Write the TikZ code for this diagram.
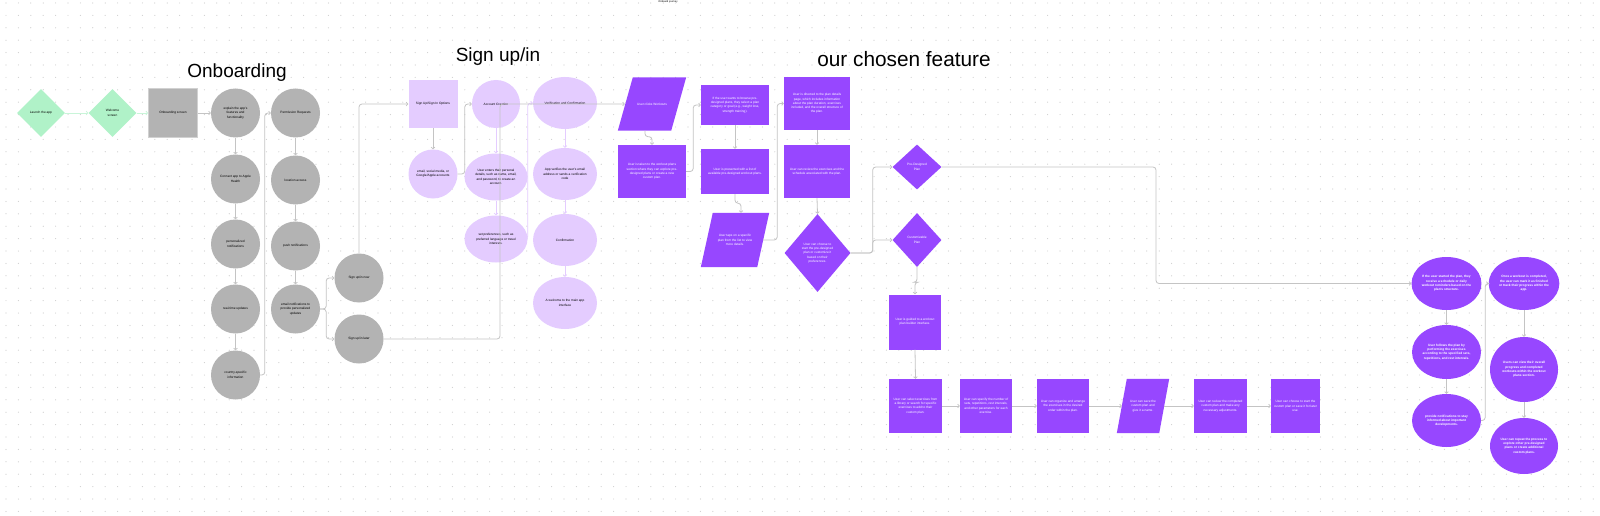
\documentclass[tikz,border=0pt]{standalone}
\usepackage{fontspec}
\setmainfont{Liberation Sans}
\usetikzlibrary{shapes.geometric,arrows.meta,calc}
\definecolor{mint}{HTML}{B0F2C8}
\definecolor{mintline}{HTML}{C9F5D9}
\definecolor{gshape}{HTML}{B3B3B3}
\definecolor{lpur}{HTML}{E4CCFF}
\definecolor{pur}{HTML}{9747FF}
\definecolor{linec}{HTML}{C4C4C4}
\definecolor{dotc}{HTML}{CFCFCF}
\begin{document}
\begin{tikzpicture}[x=1pt,y=-1pt,
  every node/.style={font=\fontsize{3.2}{4.3}\selectfont, align=center, inner sep=0pt},
  title/.style={font=\fontsize{19}{22}\selectfont},
  dotrow/.style={draw=dotc, line width=1.2pt, line cap=round, dash pattern=on 0pt off 12.4pt},
  gdia/.style={diamond, fill=mint, minimum width=48pt, minimum height=48pt},
  gsq/.style={rectangle, fill=gshape, draw=gshape!60, line width=0.8pt, minimum width=49pt, minimum height=49pt},
  gcirc/.style={circle, fill=gshape, minimum size=49pt},
  lpcirc/.style={circle, fill=lpur, minimum size=49pt},
  lpell/.style={ellipse, fill=lpur, minimum width=#1},
  lpbox/.style={rectangle, fill=lpur, minimum width=49pt, minimum height=48pt},
  pbox/.style={rectangle, fill=pur, text=white},
  pdia/.style={diamond, fill=pur, text=white},
  pell/.style={ellipse, fill=pur, text=white, font=\fontsize{3.2}{4.3}\selectfont\bfseries},
  pgframe/.style={rectangle},
  ptext/.style={text=white},
  conn/.style={draw=linec, line width=0.8pt, rounded corners=3pt, -{Straight Barb[length=1.6pt,width=3.6pt]}},
  gconn/.style={conn, draw=mintline},
  pconn/.style={conn, draw=lpur}
]
\useasboundingbox (0,0) rectangle (1600,516);
\fill[white] (0,0) rectangle (1600,516);
\foreach \yy in {3,15.4,...,516}{\draw[dotrow] (6,\yy) -- (1600,\yy);}

% titles
\node[title] (t1) at (237,73) {Onboarding};
\node[title] (t2) at (498,57) {Sign up/in};
\node[title, font=\fontsize{20.8}{24}\selectfont] (t3) at (904,59) {our chosen feature};
\node[font=\fontsize{2.6}{3}\selectfont] (t0) at (668,2) {Onboard journey};

% onboarding
\node[gdia] (launch) at (41,113) {Launch the app};
\node[gdia] (welcome) at (112.5,113) {Welcome\\screen};
\node[gsq] (onbs) at (173,113) {Onboarding screen};
\node[gcirc] (e1) at (235.5,113) {explain the app's\\features and\\functionality};
\node[gcirc] (e2) at (235.5,179) {Connect app to Apple\\Health};
\node[gcirc] (e3) at (235.5,244) {personalized\\notifications};
\node[gcirc] (e4) at (235.5,309) {real-time updates};
\node[gcirc] (e5) at (235.5,375) {country-specific\\information};
\node[gcirc] (p1) at (295.5,113) {Permission Requests};
\node[gcirc] (p2) at (295.5,180) {location access};
\node[gcirc] (p3) at (295.5,246) {push notifications};
\node[gcirc] (p4) at (295.5,309) {email notifications to\\provide personalized\\updates};
\node[gcirc] (snow) at (359,278) {Sign up/in now};
\node[gcirc] (slater) at (359,339) {Sign up/in later};

% sign up/in
\node[lpbox] (opts) at (433,104) {Sign Up/Sign In Options};
\node[lpcirc] (em) at (433,174) {email, social media, or\\Google/Apple accounts};
\node[lpcirc, minimum size=48pt] (acc) at (496,104) {Account Creation};
\node[lpell=63pt, minimum height=47pt] (det) at (496,177) {User enters their personal\\details, such as name, email,\\and password, to create an\\account.};
\node[lpell=63pt, minimum height=47pt] (pref) at (496,239) {set preferences, such as\\preferred language or travel\\interests.};
\node[lpell=64pt, minimum height=52pt] (ver) at (565,103) {Verification and Confirmation};
\node[lpell=64pt, minimum height=52pt] (vcode) at (565,174) {App verifies the user's email\\address or sends a verification\\code};
\node[lpell=64pt, minimum height=52pt] (conf) at (565,240) {Confirmation};
\node[lpell=64pt, minimum height=52pt] (welc) at (565,303) {A welcome to the main app\\interface};

% chosen feature
\node[pgframe, minimum width=68pt, minimum height=53pt] (wk) at (652,104) {};
\fill[pur] ([xshift=15pt]wk.north west) -- (wk.north east) -- ([xshift=-15pt]wk.south east) -- (wk.south west) -- cycle;
\node[ptext] (wkt) at (wk) {User clicks Workouts};
\node[pbox, minimum width=68pt, minimum height=53pt] (taken) at (652,171.5) {User is taken to the workout plans\\section where they can explore pre-\\designed plans or create a new\\custom plan.};
\node[pbox, minimum width=68pt, minimum height=40pt] (browse) at (735,105) {If the user wants to browse pre-\\designed plans, they select a plan\\category or goal (e.g., weight loss,\\strength training).};
\node[pbox, minimum width=68pt, minimum height=45pt] (presented) at (735,171.5) {User is presented with a list of\\available pre-designed workout plans.};
\node[pgframe, minimum width=68pt, minimum height=54pt] (tap) at (735,240) {};
\fill[pur] ([xshift=12pt]tap.north west) -- (tap.north east) -- ([xshift=-12pt]tap.south east) -- (tap.south west) -- cycle;
\node[ptext] (tapt) at (tap) {User taps on a specific\\plan from the list to view\\more details.};
\node[pbox, minimum width=66pt, minimum height=53pt] (details) at (817,103.5) {User is directed to the plan details\\page, which includes information\\about the plan duration, exercises\\included, and the overall structure of\\the plan.};
\node[pbox, minimum width=66pt, minimum height=53pt] (review) at (817,171.5) {User can review the exercises and the\\schedule associated with the plan.};
\node[pdia, minimum width=66pt, minimum height=78pt] (choose) at (817.5,253) {User can choose to\\start the pre-designed\\plan or customize it\\based on their\\preferences.};
\node[pdia, minimum width=49pt, minimum height=45pt] (pre) at (917,167) {Pre-Designed\\Plan};
\node[pdia, minimum width=49pt, minimum height=54pt] (cust) at (917,240) {Customizable\\Plan};
\node[pbox, minimum width=52pt, minimum height=55pt] (build) at (915,322) {User is guided to a workout\\plan builder interface.};
\node[pbox, minimum width=53pt, minimum height=54pt] (r1) at (915.5,406) {User can select exercises from\\a library or search for specific\\exercises to add to their\\custom plan.};
\node[pbox, minimum width=52pt, minimum height=54pt] (r2) at (986,406) {User can specify the number of\\sets, repetitions, rest intervals,\\and other parameters for each\\exercise.};
\node[pbox, minimum width=52pt, minimum height=54pt] (r3) at (1063,406) {User can organize and arrange\\the exercises in the desired\\order within the plan.};
\node[pgframe, minimum width=52pt, minimum height=54pt] (sv) at (1143,406) {};
\fill[pur] ([xshift=10pt]sv.north west) -- (sv.north east) -- ([xshift=-10pt]sv.south east) -- (sv.south west) -- cycle;
\node[ptext] (svt) at (sv) {User can save the\\custom plan and\\give it a name.};
\node[pbox, minimum width=53pt, minimum height=54pt] (r5) at (1220.5,406) {User can review the completed\\custom plan and make any\\necessary adjustments.};
\node[pbox, minimum width=49pt, minimum height=54pt] (r6) at (1295.5,406) {User can choose to start the\\custom plan or save it for later\\use.};
\node[pell, minimum width=69pt, minimum height=53pt] (c1) at (1446.5,283.5) {If the user started the plan, they\\receive a schedule or daily\\workout reminders based on the\\plan's structure.};
\node[pell, minimum width=69pt, minimum height=54pt] (c2) at (1446.5,352) {User follows the plan by\\performing the exercises\\according to the specified sets,\\repetitions, and rest intervals.};
\node[pell, minimum width=69pt, minimum height=53pt] (c3) at (1446.5,420.5) {provide notifications to stay\\informed about important\\developments.};
\node[pell, minimum width=68pt, minimum height=53pt] (c4) at (1524,283.5) {Once a workout is completed,\\the user can mark it as finished\\or track their progress within the\\app.};
\node[pell, minimum width=68pt, minimum height=65pt] (c5) at (1524,369.5) {Users can view their overall\\progress and completed\\workouts within the workout\\plans section.};
\node[pell, minimum width=68pt, minimum height=56pt] (c6) at (1524,446) {User can repeat the process to\\explore other pre-designed\\plans or create additional\\custom plans.};
\coordinate (k1) at (1156,283.5);

% connectors
\draw[gconn] (launch.east) -- (welcome.west);
\draw[gconn] (welcome.east) -- (onbs.west);
\draw[conn] (onbs.east) -- (e1.west);
\draw[conn] (e1) -- (e2);
\draw[conn] (e2) -- (e3);
\draw[conn] (e3) -- (e4);
\draw[conn] (e4) -- (e5);
\draw[conn] (e5.east) -| ([xshift=-6pt]p1.west) -- (p1.west);
\draw[conn] (p1) -- (p2);
\draw[conn] (p2) -- (p3);
\draw[conn] (p3) -- (p4);
\draw[conn] (p4.east) -- ++(6,0) |- (snow.west);
\draw[conn] (p4.east) -- ++(6,0) |- (slater.west);
\draw[conn] (snow.north) |- (opts.west);
\draw[conn] (opts) -- (em);
\draw[conn] (em.east) -| ([xshift=-7pt]acc.west) -- (acc.west);
\draw[pconn] (acc) -- (det);
\draw[pconn] (det) -- (pref);
\draw[pconn] (pref.east) -| ([xshift=-5pt]ver.west) -- (ver.west);
\draw[pconn] (ver) -- (vcode);
\draw[pconn] (vcode) -- (conf);
\draw[pconn] (conf) -- (welc);
\draw[conn] (slater.east) -| ([xshift=4pt]acc.center) -- ([xshift=7pt]wk.west);
\draw[conn] ([xshift=-7pt]wk.south) -- ++(0,6) -| (taken.north);
\draw[conn] (taken.east) -- ++(7,0) |- (browse.west);
\draw[conn] (browse) -- (presented);
\draw[conn] (presented.south) -- ++(0,9) -| ([xshift=6pt]tap.north);
\draw[conn] ([xshift=-6pt]tap.east) -- ++(14,0) |- (details.west);
\draw[conn] (details) -- (review);
\draw[conn] (review.south) -- (choose.north);
\draw[conn] (choose.east) -- ++(22,0) |- (pre.west);
\draw[conn] (choose.east) -- ++(22,0) |- (cust.west);
\draw[conn] (pre.east) -| (k1) -- (c1.west);
\draw[conn] (cust.south) -- ++(0,15) -| (build.north);
\draw[conn] (build.south) -- (r1.north);
\draw[conn] (r1) -- (r2);
\draw[conn] (r2) -- (r3);
\draw[conn] (r3.east) -- ([xshift=5pt]sv.west);
\draw[conn] ([xshift=-5pt]sv.east) -- (r5.west);
\draw[conn] (r5) -- (r6);
\draw[conn] (c1) -- (c2);
\draw[conn] (c2) -- (c3);
\draw[conn] (c3.east) -- ++(4,0) |- (c4.west);
\draw[conn] (c4) -- (c5);
\draw[conn] (c5) -- (c6);
\end{tikzpicture}
\end{document}
